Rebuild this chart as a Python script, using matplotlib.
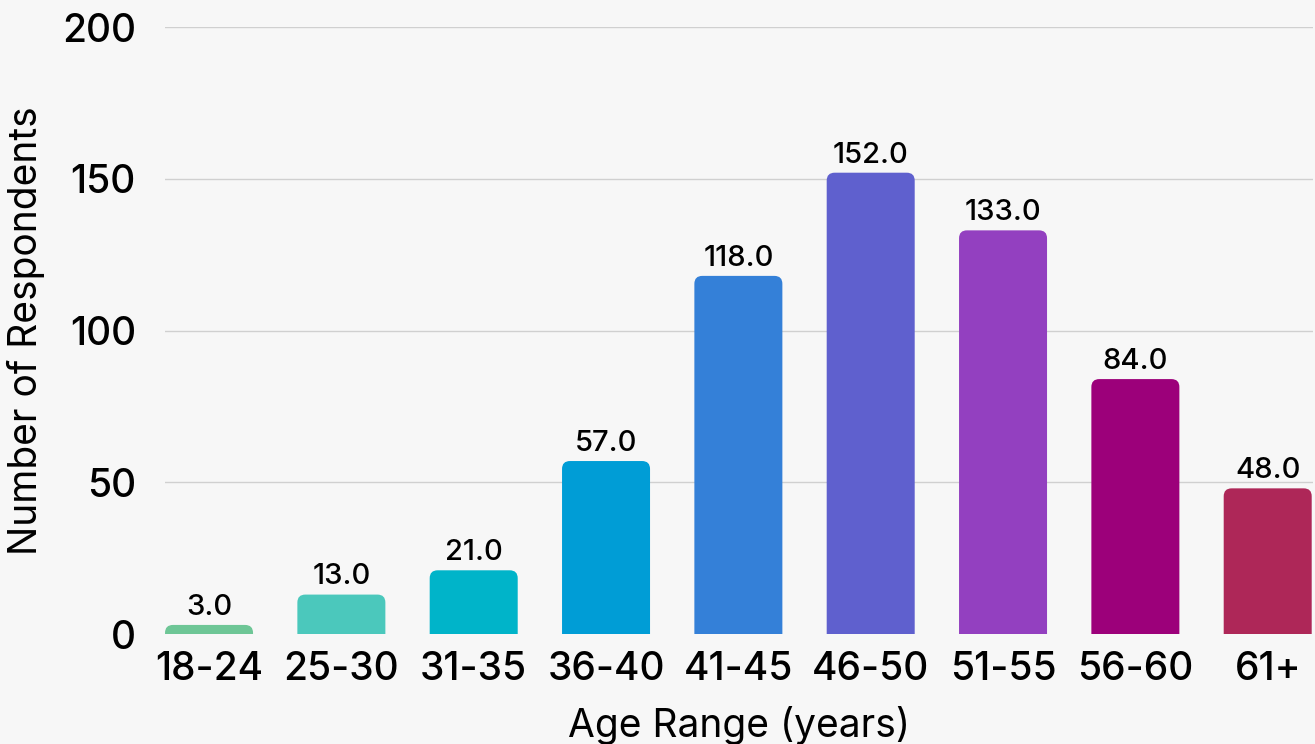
import matplotlib
matplotlib.use("Agg")
import matplotlib.pyplot as plt
from matplotlib.patches import FancyBboxPatch

# data
age_ranges = ["18-24", "25-30", "31-35", "36-40", "41-45", "46-50", "51-55", "56-60", "61+"]
respondents = [3, 13, 21, 57, 118, 152, 133, 84, 48]
bar_colors = ["#6ec696", "#4bc8bc", "#00b4c9", "#009dd6", "#3480d8",
              "#5f60ce", "#9340c0", "#9c007a", "#ae2758"]
y_ticks = [0, 50, 100, 150, 200]

plt.rcParams["font.family"] = ["Inter", "DejaVu Sans"]
plt.rcParams["font.weight"] = 500
bg = "#f7f7f7"

fig = plt.figure(figsize=(13.15, 7.44), dpi=100, facecolor=bg)
ax = fig.add_axes([0.1255, 0.1478, 0.873, 0.8159], facecolor=bg)

bar_w = 0.665
bars = ax.bar(range(len(age_ranges)), respondents, width=bar_w, color=bar_colors)

# swap plain rectangles for ones with rounded tops
rad = 0.06
aspect = 2.6 / rad
for b, col in zip(bars, bar_colors):
    x, w, h = b.get_x(), b.get_width(), b.get_height()
    b.set_visible(False)
    p = FancyBboxPatch((x, -10), w, h + 10,
                       boxstyle="round,pad=0,rounding_size=%f" % rad,
                       mutation_aspect=aspect, facecolor=col, edgecolor="none",
                       zorder=2)
    ax.add_patch(p)
    ax.annotate("%.1f" % h, (x + w / 2, h), xytext=(0, 3), textcoords="offset points",
                ha="center", va="bottom", fontsize=21, color="black")

ax.set_xlim(-bar_w / 2, len(age_ranges) - 1 + bar_w / 2 + 0.01)
ax.set_ylim(0, 200)
ax.set_yticks(y_ticks)
ax.set_xticks(range(len(age_ranges)))
ax.set_xticklabels(age_ranges)

ax.grid(axis="y", color="#d0d0d0", linewidth=1)
ax.set_axisbelow(True)
ax.yaxis.get_gridlines()[0].set_visible(False)
for s in ax.spines.values():
    s.set_visible(False)
ax.tick_params(axis="both", length=0, labelsize=28)
ax.tick_params(axis="y", pad=21)
ax.tick_params(axis="x", pad=12)

ax.set_ylabel("Number of Respondents", fontsize=28, labelpad=12)
ax.set_xlabel("Age Range (years)", fontsize=28, labelpad=13)

fig.savefig("out.png", dpi=100, facecolor=bg)
